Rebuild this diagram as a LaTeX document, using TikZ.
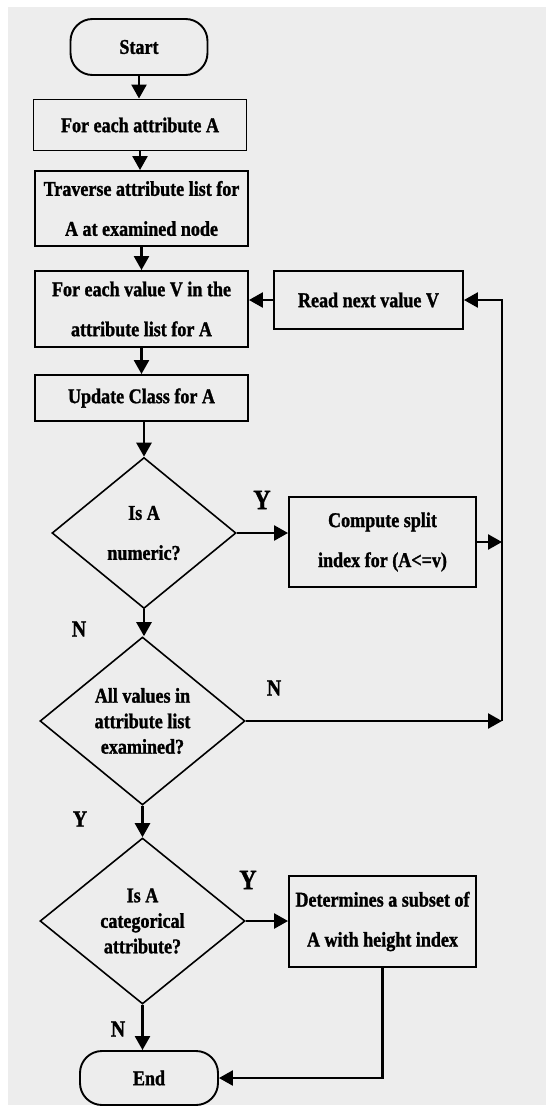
\documentclass[tikz,border=0pt]{standalone}
\usepackage{fontspec}
\setmainfont[FakeStretch=0.86,BoldFeatures={FakeBold=1.3}]{Liberation Serif}
\usetikzlibrary{shapes.geometric,arrows.meta}
\begin{document}
\begin{tikzpicture}[x=1pt,y=-1pt,
  base/.style={draw=black,line width=1.9pt,inner sep=0pt,align=center,
    font=\fontsize{21}{40}\selectfont\bfseries},
  box/.style={base,rectangle},
  term/.style={base,rectangle,rounded corners=22pt},
  dec/.style={base,diamond,line width=1.6pt},
  dectight/.style={dec,font=\fontsize{21}{25.5}\selectfont\bfseries},
  lab/.style={inner sep=0pt,font=\fontsize{23}{23}\selectfont\bfseries},
  labbig/.style={inner sep=0pt,font=\fontsize{28}{28}\selectfont\bfseries},
  arr/.style={line width=2.5pt,-{Triangle[length=14pt,width=15pt]}}]
\useasboundingbox (0,0) rectangle (546,1108);
\fill[black!7] (8,7) rectangle (546,1105);

\node[term,minimum width=137pt,minimum height=56pt] (start) at (139,47) {Start};
\node[box,minimum width=213pt,minimum height=51pt] (fea) at (140,125) {For each attribute A};
\node[box,minimum width=213pt,minimum height=75pt] (trav) at (141.5,208.5) {Traverse attribute list for\\A at examined node};
\node[box,minimum width=213pt,minimum height=76pt] (fev) at (141.5,309) {For each value V in the\\attribute list for A};
\node[box,minimum width=189pt,minimum height=58pt] (read) at (368.5,300) {Read next value V};
\node[box,minimum width=213pt,minimum height=46pt] (upd) at (141.5,398) {Update Class for A};
\node[dec,minimum width=184pt,minimum height=151pt,aspect=1.22] (d1) at (144,533) {Is A\\numeric?};
\node[box,minimum width=187pt,minimum height=90pt] (comp) at (382.5,542) {Compute split\\index for (A<=v)};
\node[dectight,minimum width=205pt,minimum height=168pt,aspect=1.22] (d2) at (142.5,721) {All values in\\attribute list\\examined?};
\node[dectight,minimum width=205pt,minimum height=166pt,aspect=1.22] (d3) at (142.5,921) {Is A\\categorical\\attribute?};
\node[box,minimum width=187pt,minimum height=91pt] (det) at (382.5,921.5) {Determines a subset of\\A with height index};
\node[term,minimum width=138pt,minimum height=54pt] (end) at (149,1078) {End};

\coordinate (rv) at (502,0);

\node[labbig] (y1) at (262,500) {Y};
\node[lab] (n1) at (79,629) {N};
\node[lab] (n2) at (274,688) {N};
\node[lab] (y2) at (80,819) {Y};
\node[labbig] (y3) at (248,880) {Y};
\node[lab] (n3) at (118,1029) {N};

\draw[arr] (start.south) -- (start.south |- fea.north);
\draw[arr] (fea.south) -- (fea.south |- trav.north);
\draw[arr] (trav.south) -- (trav.south |- fev.north);
\draw[arr] (fev.south) -- (fev.south |- upd.north);
\draw[arr] (upd.south -| d1.north) -- (d1.north);
\draw[arr] (read.west) -- (read.west -| fev.east);
\draw[arr] (d1.east) -- (d1.east -| comp.west);
\draw[arr] (comp.east) -- (rv |- comp.east);
\draw[arr] (d1.south) -- (d1.south |- d2.north);
\draw[arr] (d2.east) -- (rv |- d2.east);
\draw[arr] (rv |- d2.east) -- (rv |- read.east) -- (read.east);
\draw[arr] (d2.south) -- (d2.south |- d3.north);
\draw[arr] (d3.east) -- (d3.east -| det.west);
\draw[arr] (d3.south) -- (d3.south |- end.north);
\draw[arr] (det.south) -- (det.south |- end.east) -- (end.east);
\end{tikzpicture}
\end{document}
